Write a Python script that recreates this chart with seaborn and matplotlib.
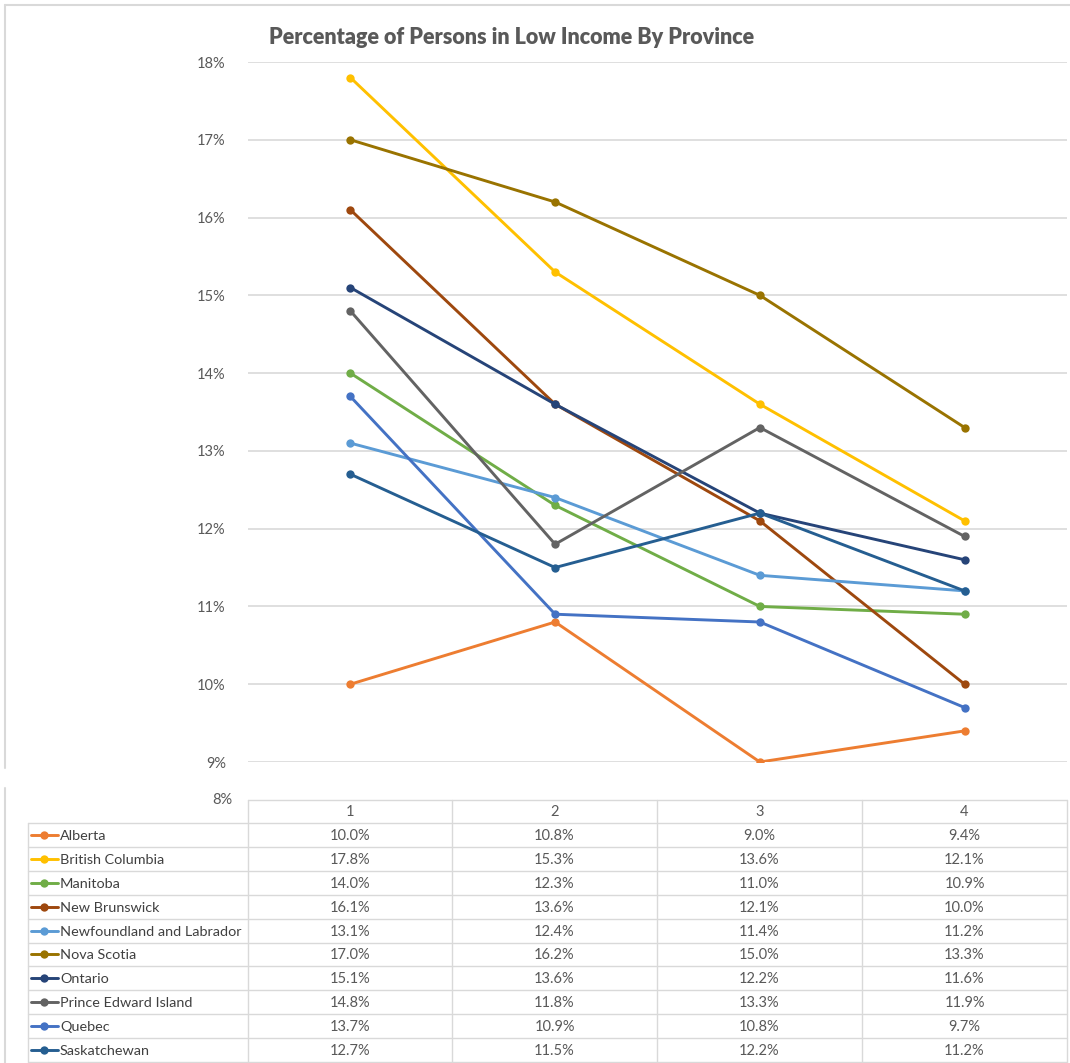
import matplotlib
matplotlib.use("Agg")
import matplotlib.pyplot as plt
import seaborn as sns
import pandas as pd
from matplotlib.lines import Line2D
from matplotlib.ticker import FuncFormatter

# Low-income rates (%) by province for periods 1-4
periods = [1, 2, 3, 4]
provinces = ["Alberta", "British Columbia", "Manitoba", "New Brunswick",
             "Newfoundland and Labrador", "Nova Scotia", "Ontario",
             "Prince Edward Island", "Quebec", "Saskatchewan"]
alberta = [10.0, 10.8, 9.0, 9.4]
british_columbia = [17.8, 15.3, 13.6, 12.1]
manitoba = [14.0, 12.3, 11.0, 10.9]
new_brunswick = [16.1, 13.6, 12.1, 10.0]
newfoundland = [13.1, 12.4, 11.4, 11.2]
nova_scotia = [17.0, 16.2, 15.0, 13.3]
ontario = [15.1, 13.6, 12.2, 11.6]
pei = [14.8, 11.8, 13.3, 11.9]
quebec = [13.7, 10.9, 10.8, 9.7]
saskatchewan = [12.7, 11.5, 12.2, 11.2]
series = [alberta, british_columbia, manitoba, new_brunswick, newfoundland,
          nova_scotia, ontario, pei, quebec, saskatchewan]
colors = ["#ED7D31", "#FFC000", "#70AD47", "#9E480E", "#5B9BD5",
          "#997300", "#264478", "#636363", "#4472C4", "#255E91"]
y_ticks = [9, 10, 11, 12, 13, 14, 15, 16, 17, 18]
title = "Percentage of Persons in Low Income By Province"

df = pd.DataFrame([
    {"Period": p, "Rate": v, "Province": name}
    for name, vals in zip(provinces, series)
    for p, v in zip(periods, vals)
])
palette = dict(zip(provinces, colors))

sns.set_theme(style="white")
plt.rcParams["font.family"] = ["Lato", "DejaVu Sans"]

W, H = 1070, 1063
fig = plt.figure(figsize=(W / 100, H / 100), dpi=100)
text_col = "#595959"
grid_col = "#D9D9D9"


def fx(px):
    return px / W


def fy(py):
    return 1 - py / H


# chart area
ax = fig.add_axes([fx(248), fy(762), fx(1067) - fx(248), fy(62) - fy(762)])
sns.lineplot(data=df, x="Period", y="Rate", hue="Province", palette=palette,
             marker="o", markersize=6, markeredgewidth=0, linewidth=2.1,
             legend=False, ax=ax)
ax.set_xlim(0.5, 4.5)
ax.set_ylim(y_ticks[0], y_ticks[-1])
ax.set_yticks(y_ticks)
ax.yaxis.set_major_formatter(FuncFormatter(lambda v, _: f"{v:.0f}%"))
ax.set_xticks([])
ax.set_xlabel("")
ax.set_ylabel("")
ax.tick_params(axis="y", length=0, pad=16, labelsize=10.5, labelcolor=text_col)
for s in ax.spines.values():
    s.set_visible(False)
ax.yaxis.grid(True, color=grid_col, linewidth=1.2)
ax.set_axisbelow(True)

fig.text(fx(512), fy(37), title, ha="center", va="center", fontsize=15.5,
         fontweight="heavy", color=text_col)

# overlay in pixel coordinates for the frame and data table
ov = fig.add_axes([0, 0, 1, 1], zorder=-1)
ov.set_xlim(0, W)
ov.set_ylim(H, 0)
ov.axis("off")
ov.patch.set_alpha(0)

# outer chart frame
ov.add_line(Line2D([5, W], [5, 5], color=grid_col, lw=1.5))
ov.add_line(Line2D([5, 5], [5, 768], color=grid_col, lw=1.5))
ov.add_line(Line2D([5, 5], [788, H], color=grid_col, lw=1.5))

ov.text(232, 800, "8%", ha="right", va="center", fontsize=10.5, color=text_col)

tab_top, head_bot, tab_bot = 800, 823, 1062
col_edges = [248, 452, 657, 862, 1067]
row_h = (tab_bot - head_bot) / len(provinces)
lw_t = 1.0
ov.add_line(Line2D([col_edges[0], col_edges[-1]], [tab_top, tab_top], color=grid_col, lw=lw_t))
ov.add_line(Line2D([28, col_edges[-1]], [head_bot, head_bot], color=grid_col, lw=lw_t))
for i in range(1, len(provinces) + 1):
    yy = head_bot + i * row_h
    ov.add_line(Line2D([28, col_edges[-1]], [yy, yy], color=grid_col, lw=lw_t))
ov.add_line(Line2D([28, 28], [head_bot, tab_bot], color=grid_col, lw=lw_t))
for xe in col_edges:
    ov.add_line(Line2D([xe, xe], [tab_top, tab_bot], color=grid_col, lw=lw_t))

for j, p in enumerate(periods):
    cx = (col_edges[j] + col_edges[j + 1]) / 2
    ov.text(cx, (tab_top + head_bot) / 2 + 1, str(p), ha="center", va="center",
            fontsize=10.5, color=text_col)

for i, (name, vals, c) in enumerate(zip(provinces, series, colors)):
    cy = head_bot + (i + 0.5) * row_h
    ov.add_line(Line2D([31, 58], [cy, cy], color=c, lw=2.1))
    ov.plot([44], [cy], marker="o", markersize=6, markeredgewidth=0, color=c)
    ov.text(60, cy + 1, name, ha="left", va="center", fontsize=10.4, color="#404040")
    for j, v in enumerate(vals):
        cx = (col_edges[j] + col_edges[j + 1]) / 2
        ov.text(cx, cy + 1, f"{v:.1f}%", ha="center", va="center",
                fontsize=10.5, color=text_col)

fig.savefig("out.png", dpi=100, facecolor="white")
